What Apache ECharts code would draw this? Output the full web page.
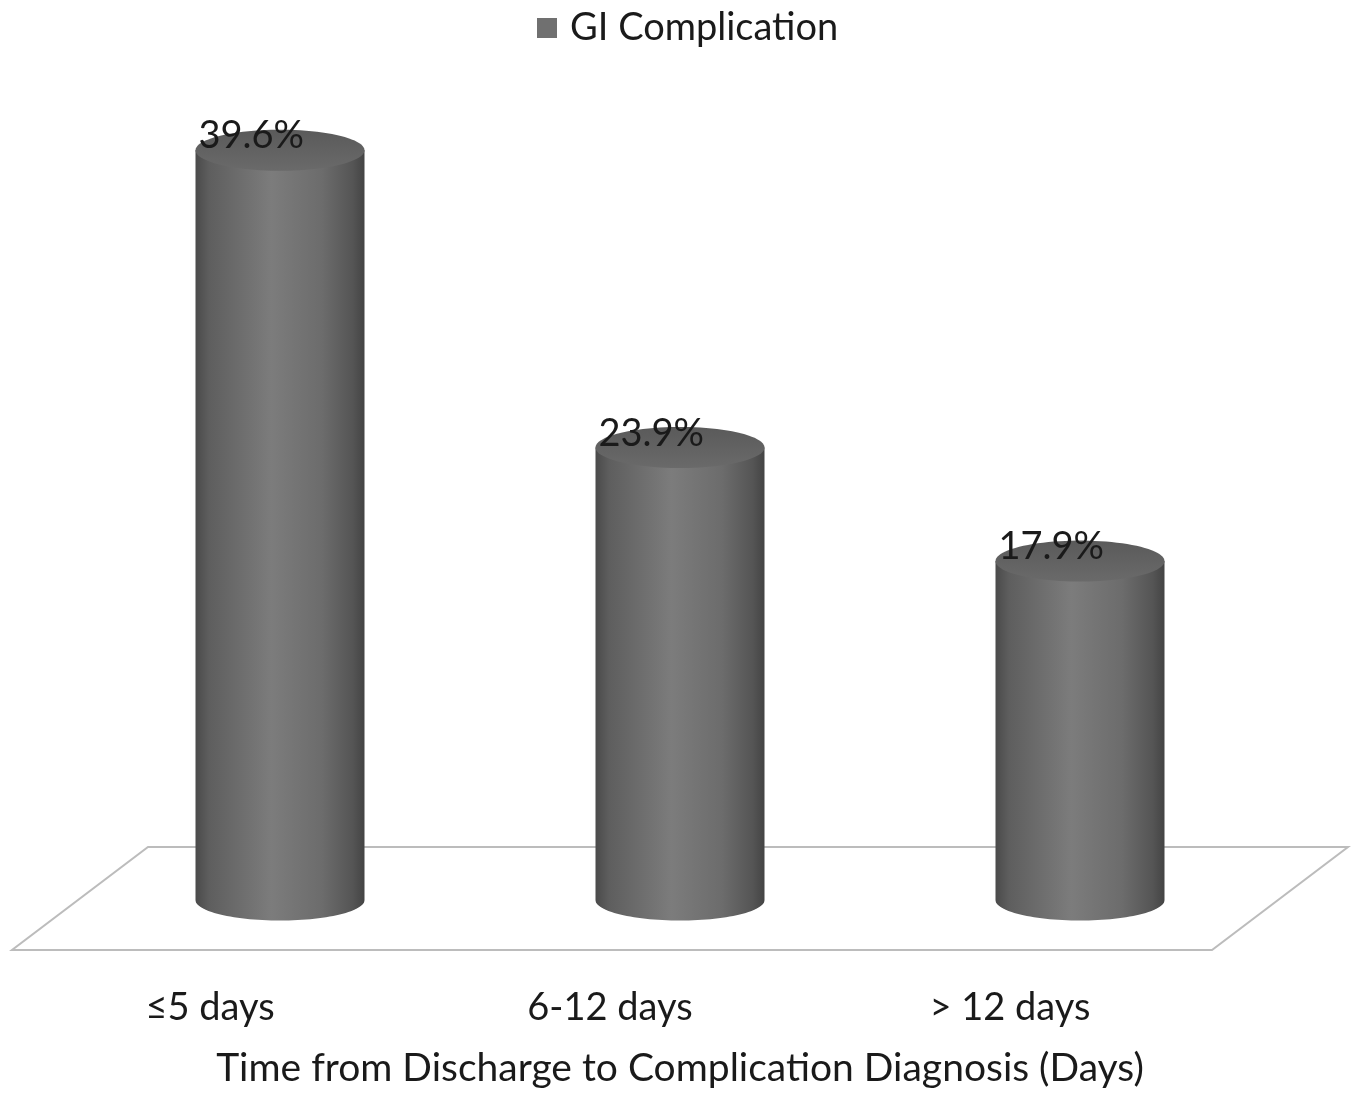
<!DOCTYPE html>
<html>
<head>
<meta charset="utf-8">
<script src="https://cdn.jsdelivr.net/npm/echarts@6/dist/echarts.min.js"></script>
<style>
html,body{margin:0;padding:0;background:#fff;}
#chart{width:1355px;height:1093px;}
</style>
</head>
<body>
<div id="chart"></div>
<script>
var categories = ['≤5 days', '6-12 days', '> 12 days'];
var values = [39.6, 23.9, 17.9];
var seriesName = 'GI Complication';
var axisTitle = 'Time from Discharge to Complication Diagnosis (Days)';

var FONT = 'Lato, "Open Sans", sans-serif';

function ellipsePts(cx, cy, rx, ry, a0, a1, n) {
  var pts = [];
  for (var i = 0; i <= n; i++) {
    var a = a0 + (a1 - a0) * i / n;
    pts.push([cx + rx * Math.cos(a), cy + ry * Math.sin(a)]);
  }
  return pts;
}

function renderCylinder(params, api) {
  var idx = api.value(0);
  var val = api.value(1);
  var top = api.coord([idx, val]);
  var base = api.coord([idx, 0]);
  var band = api.size([1, 0])[0];
  var rx = band * 0.4225 / 2;
  var ry = 20.5;
  var cx = top[0];
  var side = [[cx - rx, top[1]], [cx - rx, base[1]]]
    .concat(ellipsePts(cx, base[1], rx, ry, Math.PI, 0, 60))
    .concat([[cx + rx, top[1]]]);
  var sideGrad = new echarts.graphic.LinearGradient(0, 0, 1, 0, [
    {offset: 0, color: '#4a4a4a'},
    {offset: 0.08, color: '#5e5e5e'},
    {offset: 0.45, color: '#7c7c7c'},
    {offset: 0.75, color: '#6c6c6c'},
    {offset: 0.93, color: '#555555'},
    {offset: 1, color: '#444444'}
  ]);
  var topGrad = new echarts.graphic.LinearGradient(0, 0, 0, 1, [
    {offset: 0, color: '#5a5a5a'},
    {offset: 1, color: '#6a6a6a'}
  ]);
  return {
    type: 'group',
    children: [
      {type: 'polygon', shape: {points: side}, style: {fill: sideGrad}},
      {type: 'polygon', shape: {points: ellipsePts(cx, top[1], rx, ry, 0, Math.PI * 2, 90)}, style: {fill: topGrad}},
      {type: 'text', x: cx - rx + 3, y: top[1] - 14,
        style: {text: val.toFixed(1) + '%', font: '38px ' + FONT, fill: '#1a1a1a', textAlign: 'left', textVerticalAlign: 'middle'}}
    ]
  };
}

function renderFloor(params, api) {
  var cs = params.coordSys;
  var zero = api.coord([0, 0])[1];
  var dx = 68, dyUp = 53, dyDown = 50;
  var x0 = cs.x, x1 = cs.x + cs.width;
  return {
    type: 'polygon',
    shape: {points: [[x0 + dx, zero - dyUp], [x1 + dx, zero - dyUp], [x1 - dx, zero + dyDown], [x0 - dx, zero + dyDown]]},
    style: {fill: '#ffffff', stroke: '#bcbcbc', lineWidth: 2}
  };
}

var chart = echarts.init(document.getElementById('chart'));
chart.setOption({
  animation: false,
  backgroundColor: '#ffffff',
  textStyle: {fontFamily: FONT},
  legend: {
    data: [seriesName],
    top: 4, left: 532,
    icon: 'rect', itemWidth: 20, itemHeight: 20, itemGap: 10,
    textStyle: {fontSize: 38, color: '#1a1a1a', fontFamily: FONT, padding: [0, 0, 0, 8]}
  },
  grid: {left: 80, right: 75, top: 48, bottom: 189},
  xAxis: {
    type: 'category',
    data: categories,
    axisLine: {show: false}, axisTick: {show: false},
    axisLabel: {fontSize: 38, color: '#1a1a1a', margin: 89, padding: [0, 140, 0, 0], fontFamily: FONT},
    name: axisTitle, nameLocation: 'middle', nameGap: 149,
    nameTextStyle: {fontSize: 39, color: '#1a1a1a', fontFamily: FONT}
  },
  yAxis: {
    type: 'value', min: 0, max: 45, interval: 5,
    show: false, splitLine: {show: false}
  },
  series: [
    {
      type: 'custom', name: 'floor', data: [[0, 0]], z: 1,
      renderItem: renderFloor, silent: true, legendHoverLink: false
    },
    {
      type: 'custom', name: seriesName, z: 2,
      itemStyle: {color: '#707070'},
      encode: {x: 0, y: 1},
      data: values.map(function (v, i) { return [i, v]; }),
      renderItem: renderCylinder
    }
  ]
});
</script>
</body>
</html>
